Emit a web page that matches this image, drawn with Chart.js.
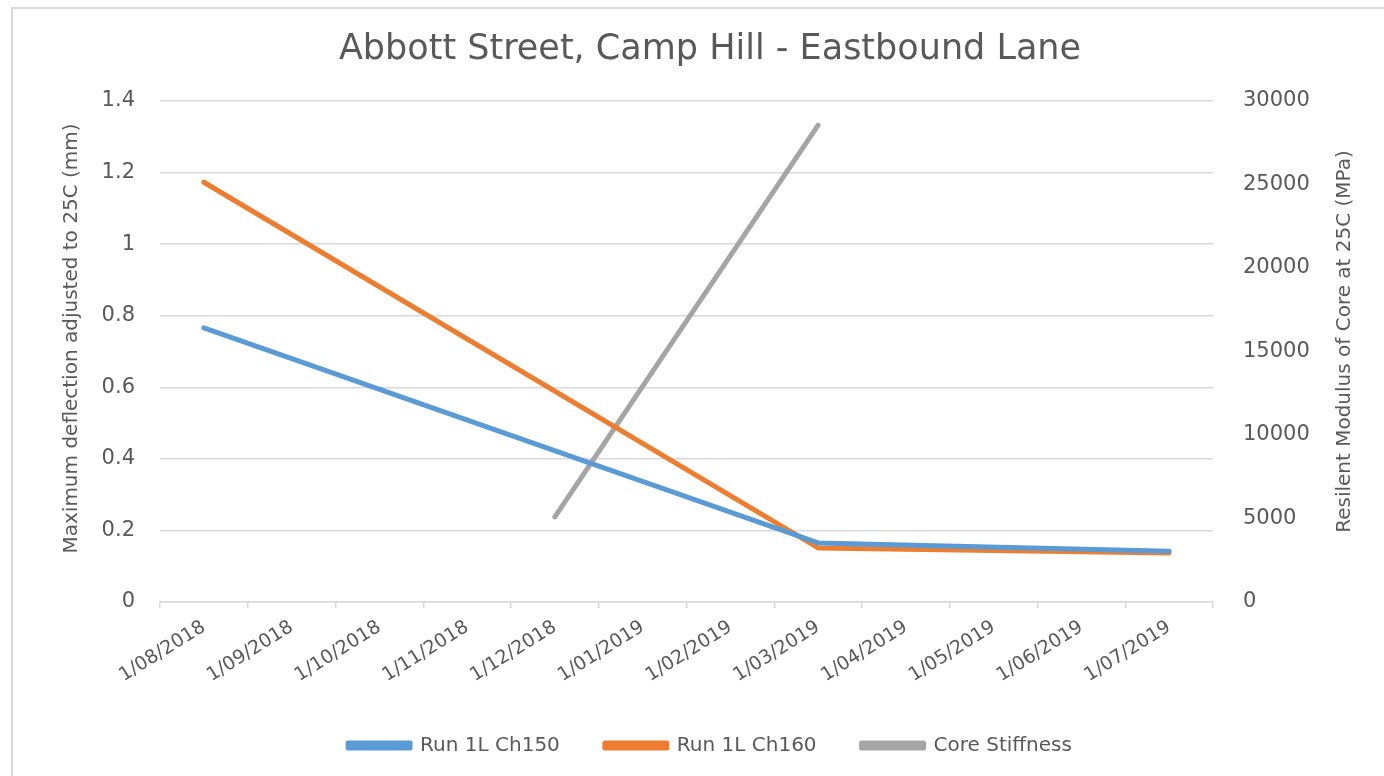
<!DOCTYPE html>
<html>
<head>
<meta charset="utf-8">
<script src="https://cdn.jsdelivr.net/npm/chart.js@4/dist/chart.umd.min.js"></script>
<style>
  html, body { margin: 0; padding: 0; background: #fff; }
  #wrap { position: relative; width: 1384px; height: 776px; overflow: hidden; }
  #frame { position: absolute; left: 11px; top: 7px; width: 1400px; height: 800px;
           border-left: 2px solid #d9d9d9; border-top: 2px solid #d9d9d9; }
  canvas { position: absolute; left: 0; top: 0; }
</style>
</head>
<body>
<div id="wrap">
  <div id="frame"></div>
  <canvas id="chart" width="1384" height="776"></canvas>
</div>
<script>
// Data
const months = ['1/08/2018', '1/09/2018', '1/10/2018', '1/11/2018', '1/12/2018', '1/01/2019',
                '1/02/2019', '1/03/2019', '1/04/2019', '1/05/2019', '1/06/2019', '1/07/2019'];
const ch150 = [0.766, null, null, null, null, null, null, 0.165, null, null, null, 0.142];
const ch160 = [1.173, null, null, null, null, null, null, 0.151, null, null, null, 0.137];
const coreStiffness = [null, null, null, null, 5100, null, null, 28550, null, null, null, null];

const leftTicks = [0, 0.2, 0.4, 0.6, 0.8, 1, 1.2, 1.4];
const rightTicks = [0, 5000, 10000, 15000, 20000, 25000, 30000];

const titleText = 'Abbott Street, Camp Hill - Eastbound Lane';
const leftTitle = 'Maximum deflection adjusted to 25C (mm)';
const rightTitle = 'Resilent Modulus of Core at 25C (MPa)';

const textColor = '#595959';
const gridColor = '#d9d9d9';
const fontFamily = '"DejaVu Sans", sans-serif';

// Both axis titles read bottom-to-top, as in Excel
const axisTitlePlugin = {
    id: 'axisTitles',
    afterDraw(chart) {
        const area = chart.chartArea;
        const mid = (area.top + area.bottom) / 2;
        const ctx = chart.ctx;
        const drawVertical = (text, x, y) => {
            ctx.save();
            ctx.translate(x, y);
            ctx.rotate(-Math.PI / 2);
            ctx.font = '20px ' + fontFamily;
            ctx.fillStyle = textColor;
            ctx.textAlign = 'center';
            ctx.textBaseline = 'middle';
            ctx.fillText(text, 0, 0);
            ctx.restore();
        };
        drawVertical(leftTitle, 72, mid - 13);
        drawVertical(rightTitle, 1345, mid - 10);
    }
};

const ctx = document.getElementById('chart').getContext('2d');
new Chart(ctx, {
    type: 'line',
    data: {
        labels: months,
        datasets: [
            { label: 'Run 1L Ch150', data: ch150, borderColor: '#5b9bd5', backgroundColor: '#5b9bd5', yAxisID: 'y' },
            { label: 'Run 1L Ch160', data: ch160, borderColor: '#ed7d31', backgroundColor: '#ed7d31', yAxisID: 'y' },
            { label: 'Core Stiffness', data: coreStiffness, borderColor: '#a5a5a5', backgroundColor: '#a5a5a5', yAxisID: 'y2' }
        ]
    },
    options: {
        responsive: false,
        animation: false,
        spanGaps: true,
        layout: { padding: { left: 36, right: 0, top: 0, bottom: 10.5 } },
        elements: {
            line: { borderWidth: 5, tension: 0, borderCapStyle: 'round', borderJoinStyle: 'round' },
            point: { radius: 0, hoverRadius: 0 }
        },
        plugins: {
            tooltip: { enabled: false },
            title: {
                display: true,
                text: titleText,
                color: textColor,
                font: { family: fontFamily, size: 35, weight: 'normal' },
                padding: { top: 29, bottom: 30 }
            },
            legend: {
                position: 'bottom',
                labels: {
                    color: textColor,
                    font: { family: fontFamily, size: 20 },
                    boxWidth: 62,
                    boxHeight: 5,
                    padding: 45
                }
            }
        },
        scales: {
            x: {
                type: 'category',
                offset: true,
                grid: { display: true, drawOnChartArea: false, drawTicks: true, tickLength: 6, offset: true, color: gridColor, lineWidth: 1.5 },
                border: { display: true, color: gridColor, width: 1.5 },
                ticks: {
                    color: textColor,
                    font: { family: fontFamily, size: 19 },
                    minRotation: 32,
                    maxRotation: 32,
                    autoSkip: false,
                    padding: 8
                },
                afterFit(scale) { scale.height = 88.5; }
            },
            y: {
                position: 'left',
                min: 0,
                max: 1.4,
                afterBuildTicks(scale) { scale.ticks = leftTicks.map(v => ({ value: v })); },
                grid: { color: gridColor, lineWidth: 1.5, drawTicks: false },
                border: { display: false },
                ticks: {
                    color: textColor,
                    font: { family: fontFamily, size: 21 },
                    padding: 25,
                    callback: v => String(v)
                },
                afterFit(scale) { scale.width = 124; }
            },
            y2: {
                position: 'right',
                min: 0,
                max: 30000,
                afterBuildTicks(scale) { scale.ticks = rightTicks.map(v => ({ value: v })); },
                grid: { display: false, drawTicks: false },
                border: { display: false },
                ticks: {
                    color: textColor,
                    font: { family: fontFamily, size: 21 },
                    padding: 30,
                    callback: v => String(v)
                },
                afterFit(scale) { scale.width = 171; }
            }
        }
    },
    plugins: [axisTitlePlugin]
});
</script>
</body>
</html>
